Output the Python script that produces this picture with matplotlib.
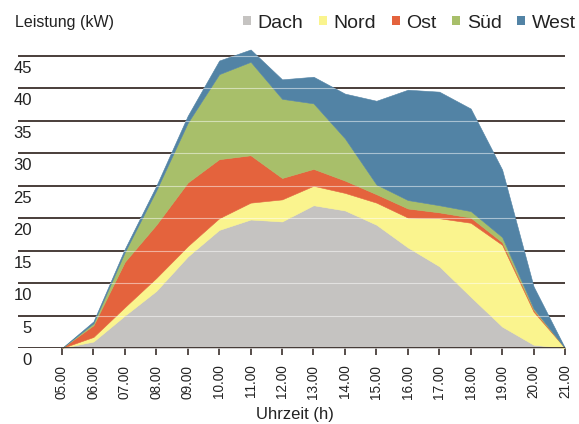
import matplotlib
matplotlib.use("Agg")
import matplotlib.pyplot as plt
from matplotlib.patches import Patch
from matplotlib import transforms
import numpy as np

plt.rcParams['font.family'] = ['Liberation Sans', 'DejaVu Sans']

# Stunden und Leistung je Dachflaeche (kW), gestapelt
hours = [5, 6, 7, 8, 9, 10, 11, 12, 13, 14, 15, 16, 17, 18, 19, 20, 21]
hour_labels = ["05.00", "06.00", "07.00", "08.00", "09.00", "10.00", "11.00", "12.00",
               "13.00", "14.00", "15.00", "16.00", "17.00", "18.00", "19.00", "20.00", "21.00"]
dach = [0, 1.0, 5.0, 8.8, 14.1, 18.2, 19.8, 19.5, 22.0, 21.2, 19.0, 15.5, 12.6, 7.9, 3.3, 0.5, 0]
nord = [0, 0.7, 1.3, 2.0, 1.6, 1.8, 2.6, 3.4, 3.0, 2.7, 3.4, 4.6, 7.4, 11.4, 12.6, 5.1, 0]
ost = [0, 1.8, 7.0, 8.2, 9.8, 9.1, 7.3, 3.3, 2.6, 1.9, 1.3, 1.4, 0.9, 0.8, 0.4, 0.3, 0]
sued = [0, 0.3, 1.5, 5.3, 9.2, 13.1, 14.4, 12.2, 10.1, 6.5, 1.5, 1.3, 1.1, 1.0, 0.8, 0.2, 0]
west = [0, 0.3, 0.5, 0.7, 1.1, 2.1, 1.9, 3.0, 4.1, 6.9, 12.9, 17.0, 17.5, 15.8, 10.4, 3.4, 0]
names = ["Dach", "Nord", "Ost", "Süd", "West"]
yticks = [0, 5, 10, 15, 20, 25, 30, 35, 40, 45]

colors = ["#c5c3c1", "#faf48e", "#e4633d", "#a8bf6a", "#5283a5"]
dark = "#3a2f2b"

fig = plt.figure(figsize=(5.79, 4.24), dpi=100)
ax = fig.add_axes([18/579, 76/424, 547/579, 305/424])
ax.set_xlim(5 - 44/31.44, 21)
ax.set_ylim(0, 47)
for s in ax.spines.values():
    s.set_visible(False)

# dunkle Gitterlinien hinter den Flaechen
for v in yticks:
    ax.axhline(v, color=dark, lw=1.3, zorder=1 if v else 4)

polys = ax.stackplot(hours, dach, nord, ost, sued, west, colors=colors,
                     lw=0.4, zorder=2)
for p in polys:
    p.set_edgecolor(p.get_facecolor())

# helle Linien innerhalb der Flaechen
top = np.sum([dach, nord, ost, sued, west], axis=0)
outline = ax.fill_between(hours, 0, top, color="none", lw=0)
clip = outline.get_paths()[0]
for v in yticks[1:]:
    ln = ax.axhline(v, color="white", lw=0.8, alpha=0.5, zorder=3)
    ln.set_clip_path(clip, ax.transData)

ax.set_yticks([])
ax.set_xticks(hours)
ax.set_xticklabels(hour_labels, rotation=90, fontsize=9.8, color="#222222")
ax.tick_params(axis='x', direction='out', length=5, width=1.2, color=dark, pad=7)

trans = transforms.offset_copy(ax.get_yaxis_transform(), fig=fig, y=-12.5, units='dots')
for v in yticks:
    ax.text(14/547, v, str(v), transform=trans, ha='right', va='center',
            fontsize=12, color="#222222")

fig.text(295/579, 1 - 414/424, "Uhrzeit (h)", ha='center', va='center',
         fontsize=12, color="#222222")
fig.text(15/579, 1 - 23/424, "Leistung (kW)", ha='left', va='center',
         fontsize=11.5, color="#222222")

handles = [Patch(facecolor=c, edgecolor='none') for c in colors]
fig.legend(handles, names, ncol=5, loc='center right',
           bbox_to_anchor=(576/579, 1 - 23/424), frameon=False, fontsize=14,
           handlelength=0.4, handleheight=0.4, handletextpad=0.35,
           columnspacing=0.8, borderpad=0, borderaxespad=0,
           labelcolor="#222222")

fig.savefig("out.png", dpi=100)
